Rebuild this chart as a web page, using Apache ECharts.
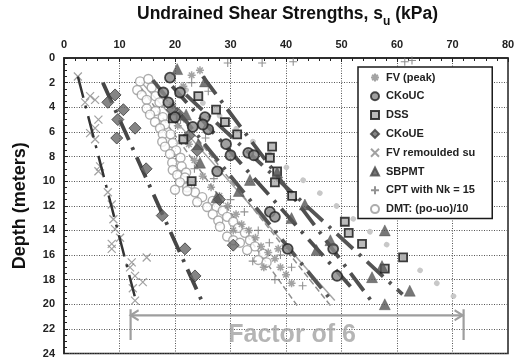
<!DOCTYPE html>
<html>
<head>
<meta charset="utf-8">
<script src="https://cdn.jsdelivr.net/npm/echarts@6/dist/echarts.min.js"></script>
<style>
  html, body { margin: 0; padding: 0; background: #fff; }
  #chart { width: 524px; height: 359px; }
</style>
</head>
<body>
<div id="chart"></div>
<script>
// Axis ticks
const suTicks = [0, 10, 20, 30, 40, 50, 60, 70, 80];
const depthTicks = [0, 2, 4, 6, 8, 10, 12, 14, 16, 18, 20, 22, 24];

// Measurements: [su (kPa), depth (m)]
const fvPeak = [[24.5,1.0],[23,1.4],[21.5,2.3],[19.5,3.8],[20.5,5.5],[22.5,7.0],[23.5,8.3],[25,9.6],[26.5,10.5],
  [28,11.2],[29.5,12.0],[31,12.7],[32,13.5],[33.3,14.0],[34.5,14.6],[35.5,15.3],[36.8,15.8],[38,16.3],[38.6,15.5],
  [39,17.0],[40,17.6],[41,18.3],[30.5,14.0],[36,17.0]];
const ckoUC = [[19.1,1.6],[17.9,2.8],[20.9,2.8],[18.8,3.6],[20,4.8],[25.4,4.8],[23.2,5.6],[26,5.8],[29.2,7.0],
  [30,7.9],[33.2,7.7],[34.2,7.9],[27.6,9.2],[37.1,12.5],[38,12.9],[40.3,15.5],[48.5,15.5],[49.2,17.7],[25,5.4]];
const dss = [[24.2,3.1],[27.4,4.2],[29,5.2],[31.2,6.2],[37.5,7.2],[37.1,8.1],[38.4,9.2],[38,10.1],[41.1,11.2],
  [50.6,13.3],[51.3,14.2],[53.7,15.1],[61.1,16.2],[57.8,17.1],[19.6,4.9],[21.5,6.6],[23,10.0]];
const ckoUE = [[9.2,3.0],[7.9,3.6],[10.7,4.2],[9.7,5.0],[12.8,5.7],[9.5,6.5],[14.8,9.0],[17.7,12.8],[21.8,15.5],
  [23.6,17.7],[20.5,4.5],[22.5,6.3],[19.5,4.2],[24,7.5],[30.5,15.2],[28,11.5]];
const fvRemoulded = [[2.5,1.5],[4.7,3.1],[5.6,3.4],[3.8,3.6],[6.2,5.0],[5.6,5.7],[4.7,6.1],[5.6,6.6],[6.5,8.8],
  [6.2,9.2],[7.9,10.9],[8.6,11.9],[8.9,13.1],[9.2,13.9],[10.1,14.6],[8.6,15.1],[8.6,15.5],[14.9,16.2],[12.2,16.6],
  [11.9,17.0],[12.8,17.7],[14.2,18.2],[12.4,18.7],[12.8,19.7]];
const sbpmt = [[20.4,0.9],[25.4,1.9],[22,4.6],[24.2,7.0],[24.5,8.5],[33.5,9.9],[38.4,9.3],[31.5,10.8],[27.5,11.3],
  [43.4,11.9],[41,13.0],[48,14.8],[45.5,15.6],[57.8,14.0],[57.3,16.9],[55.5,17.8],[62.3,18.9],[57.8,20.0]];
const cpt = [[29.5,0.4],[35.7,0.4],[41.3,0.3],[61.4,0.3],[62.7,0.2],[23,2.0],[26,2.7],[21,5.0],[25.5,6.5],
  [23.5,9.0],[27,9.8],[30,11.5],[32.5,12.5],[35,14.0],[37,15.0],[39,16.0],[41,17.0],[43,18.5],[34,16.5],[38,18.0]];
const dmt = [[13.7,1.9],[15.2,1.7],[13.2,2.6],[15.8,2.4],[14,3.0],[16.5,3.1],[14.9,3.4],[17.2,3.6],[14.9,4.1],
  [16.5,4.3],[15.5,4.6],[17.8,4.8],[16.4,5.2],[18.2,5.4],[17.3,5.7],[17.8,6.2],[19.2,6.2],[17.7,6.8],[19.6,6.9],
  [18.2,7.2],[20.2,7.5],[19.1,7.8],[21,8.1],[19.5,8.5],[21.2,8.8],[19.6,9.1],[22,9.3],[20.4,9.5],[21.8,9.7],
  [20.9,10.1],[22.7,10.4],[22.2,10.5],[20,10.7],[23.6,10.9],[22.2,10.8],[24.9,11.3],[24,11.7],[26.8,11.6],
  [25.8,12.1],[27.5,12.1],[26.8,12.7],[28.6,12.4],[27.8,13.2],[29.4,12.9],[28.1,13.7],[30.5,13.3],[29.4,14.5],
  [31.4,13.8],[30.5,14.8],[32.6,14.2],[31.7,15.0],[33.5,14.8],[34.4,15.3],[33,15.6],[35.9,15.9],[35,16.4],[36.5,16.6]];

// Fitted trends (end points)
const trendFVRemoulded = [[2.5,1.5],[13,19.8]];
const trendCKoUEShallow = [[7,2],[25.2,20.1]];
const trendCKoUE = [[16,1.8],[48,19.6]];
const trendCKoUC = [[19.5,2.3],[52.5,19]];
const trendSBPMT = [[25,1.5],[55.5,19.8]];
const trendDSS = [[22,3],[61,19.2]];
const trendFVPeak = [[22,2.6],[71.5,19.8]];
const trendDMT = [[14,2.5],[42,20.1]];
const trendCPT = [[14,2],[48.8,19.7]];
const trendCPTb = [[16,2],[48,20.1]];

// Range annotation
const factorRange = [12, 72];
const factorDepth = 20.9;
const factorBar = [20.4, 22.9];
const factorLabelDepth = 22.5;
const factorText = 'Factor of 6';

const FONT = "'Liberation Sans', Arial, sans-serif";
const P_ASTER = 'path://M5,0V10M0,5H10M1.5,1.5L8.5,8.5M8.5,1.5L1.5,8.5';
const P_CROSS = 'path://M0,0L10,10M10,0L0,10';
const P_PLUS = 'path://M5,0V10M0,5H10';

function trend(data, color, width, type, extra) {
  return Object.assign({
    type: 'line', data: data, silent: true, symbol: 'none', z: 3,
    lineStyle: { color: color, width: width, type: type }
  }, extra || {});
}
const DASHDOT = [22, 8, 3, 8];

const chart = echarts.init(document.getElementById('chart'), null, { renderer: 'canvas' });
chart.setOption({
  animation: false,
  backgroundColor: '#fff',
  textStyle: { fontFamily: FONT },
  title: {
    text: '{t|Undrained Shear Strengths, s}{s|u}{t| (kPa)}',
    left: 137, top: 5, padding: 0,
    textStyle: {
      rich: {
        t: { fontFamily: FONT, fontSize: 17.5, fontWeight: 'bold', color: '#111', lineHeight: 22, verticalAlign: 'top' },
        s: { fontFamily: FONT, fontSize: 12, fontWeight: 'bold', color: '#111', lineHeight: 12, padding: [11, 0, 0, 0], verticalAlign: 'top' }
      }
    }
  },
  grid: { left: 64, top: 58, right: 16, bottom: 4, show: true, borderColor: '#222', borderWidth: 1.5 },
  legend: {
    data: ['FV (peak)', 'CKoUC', 'DSS', 'CKoUE', 'FV remoulded su', 'SBPMT', 'CPT with Nk = 15', 'DMT: (po-uo)/10'],
    orient: 'vertical', left: 358, top: 67,
    itemWidth: 8, itemHeight: 8, itemGap: 7.8,
    padding: [5, 17, 4, 12],
    backgroundColor: '#fff', borderColor: '#1a1a1a', borderWidth: 1.5,
    selectedMode: false,
    textStyle: { fontFamily: FONT, fontWeight: 'bold', fontSize: 11, color: '#222', padding: [0, 0, 0, 2] }
  },
  xAxis: {
    type: 'value', position: 'top',
    min: suTicks[0], max: suTicks[suTicks.length - 1], interval: suTicks[1] - suTicks[0],
    axisLine: { show: true, lineStyle: { color: '#222', width: 1.5 } },
    axisTick: { show: true, inside: true, length: 4, lineStyle: { color: '#222' } },
    minorTick: { show: true, splitNumber: 5, length: 3, lineStyle: { color: '#222' } },
    axisLabel: { fontFamily: FONT, fontWeight: 'bold', fontSize: 11, color: '#222', margin: 8 },
    splitLine: { show: true, lineStyle: { color: '#555', width: 1, type: [1, 1.5] } }
  },
  yAxis: {
    type: 'value', inverse: true,
    min: depthTicks[0], max: depthTicks[depthTicks.length - 1], interval: depthTicks[1] - depthTicks[0],
    name: 'Depth (meters)', nameLocation: 'middle', nameGap: 35, nameRotate: 90,
    nameTextStyle: { fontFamily: FONT, fontWeight: 'bold', fontSize: 18, color: '#111' },
    axisLine: { show: true, lineStyle: { color: '#222', width: 1.5 } },
    axisTick: { show: true, inside: true, length: 4, lineStyle: { color: '#222' } },
    minorTick: { show: true, splitNumber: 4, length: 3, lineStyle: { color: '#222' } },
    axisLabel: { fontFamily: FONT, fontWeight: 'bold', fontSize: 11, color: '#222', margin: 9 },
    splitLine: { show: true, lineStyle: { color: '#555', width: 1, type: [1, 1.5] } }
  },
  series: [
    trend(trendFVPeak, '#cdcdcd', 5, [0.1, 21], { lineStyle: { color: '#c8c8c8', width: 5.5, type: [0.1, 21], cap: 'round' }, z: 1 }),
    trend(trendDMT, '#8f8f8f', 1.5, [6, 3], { z: 1 }),
    trend(trendCPT, '#a5a5a5', 1.5, 'solid', { z: 1 }),
    trend(trendCPTb, '#8f8f8f', 1.5, [6, 3], { z: 1 }),
    {
      name: 'DMT: (po-uo)/10', type: 'scatter', data: dmt, symbol: 'circle', symbolSize: 9, z: 2,
      itemStyle: { color: '#fff', borderColor: '#999', borderWidth: 1.4 }
    },
    {
      name: 'FV (peak)', type: 'scatter', data: fvPeak, symbol: P_ASTER, symbolSize: 8, z: 2,
      itemStyle: { color: 'transparent', borderColor: '#8c8c8c', borderWidth: 1.5 }
    },
    {
      name: 'CPT with Nk = 15', type: 'scatter', data: cpt, symbol: P_PLUS, symbolSize: 8, z: 2,
      itemStyle: { color: 'transparent', borderColor: '#777', borderWidth: 1.1 }
    },
    {
      name: 'FV remoulded su', type: 'scatter', data: fvRemoulded, symbol: P_CROSS, symbolSize: 8, z: 2,
      itemStyle: { color: 'transparent', borderColor: '#8a8a8a', borderWidth: 1.2 }
    },
    trend(trendFVRemoulded, '#333', 2.5, DASHDOT),
    trend(trendCKoUEShallow, '#474747', 3.8, DASHDOT),
    trend(trendCKoUE, '#555', 3.8, DASHDOT),
    trend(trendCKoUC, '#4d4d4d', 3.8, DASHDOT),
    trend(trendSBPMT, '#505050', 3.8, DASHDOT),
    trend(trendDSS, '#555', 3.8, DASHDOT),
    {
      name: 'CKoUE', type: 'scatter', data: ckoUE, symbol: 'diamond', symbolSize: 12, z: 4,
      itemStyle: { color: '#666', borderColor: '#3a3a3a', borderWidth: 1 }
    },
    {
      name: 'DSS', type: 'scatter', data: dss, symbol: 'rect', symbolSize: 8, z: 4,
      itemStyle: { color: '#aaa', borderColor: '#111', borderWidth: 1.8 }
    },
    {
      name: 'CKoUC', type: 'scatter', data: ckoUC, symbol: 'circle', symbolSize: 10, z: 4,
      itemStyle: { color: '#888', borderColor: '#222', borderWidth: 1.8 }
    },
    {
      name: 'SBPMT', type: 'scatter', data: sbpmt, symbol: 'triangle', symbolSize: 11, z: 4,
      itemStyle: { color: '#555', borderColor: '#484848', borderWidth: 0.5 }
    },
    // "Factor of 6" range arrow
    {
      type: 'line', silent: true, z: 5,
      lineStyle: { color: '#9e9e9e', width: 2.2 },
      itemStyle: { color: 'transparent', borderColor: '#9e9e9e', borderWidth: 2 },
      data: [
        { value: [factorRange[0], factorDepth], symbol: 'path://M10,0L0,5L10,10', symbolSize: [8, 10], symbolOffset: [4, 0] },
        { value: [factorRange[1], factorDepth], symbol: 'path://M0,0L10,5L0,10', symbolSize: [8, 10], symbolOffset: [-5, 0] }
      ]
    },
    trend([[factorRange[0], factorBar[0]], [factorRange[0], factorBar[1]]], '#9e9e9e', 2.2, 'solid', { z: 5 }),
    trend([[factorRange[1], factorBar[0]], [factorRange[1], factorBar[1]]], '#9e9e9e', 2.2, 'solid', { z: 5 }),
    {
      type: 'scatter', silent: true, z: 6, symbol: 'circle', symbolSize: 1,
      itemStyle: { color: 'transparent' },
      data: [[(factorRange[0] + factorRange[1]) / 2, factorLabelDepth]],
      label: {
        show: true, position: 'inside', formatter: factorText, offset: [-5, 0],
        fontFamily: FONT, fontWeight: 'bold', fontSize: 25, color: '#a3a3a3'
      }
    }
  ]
});
</script>
</body>
</html>
